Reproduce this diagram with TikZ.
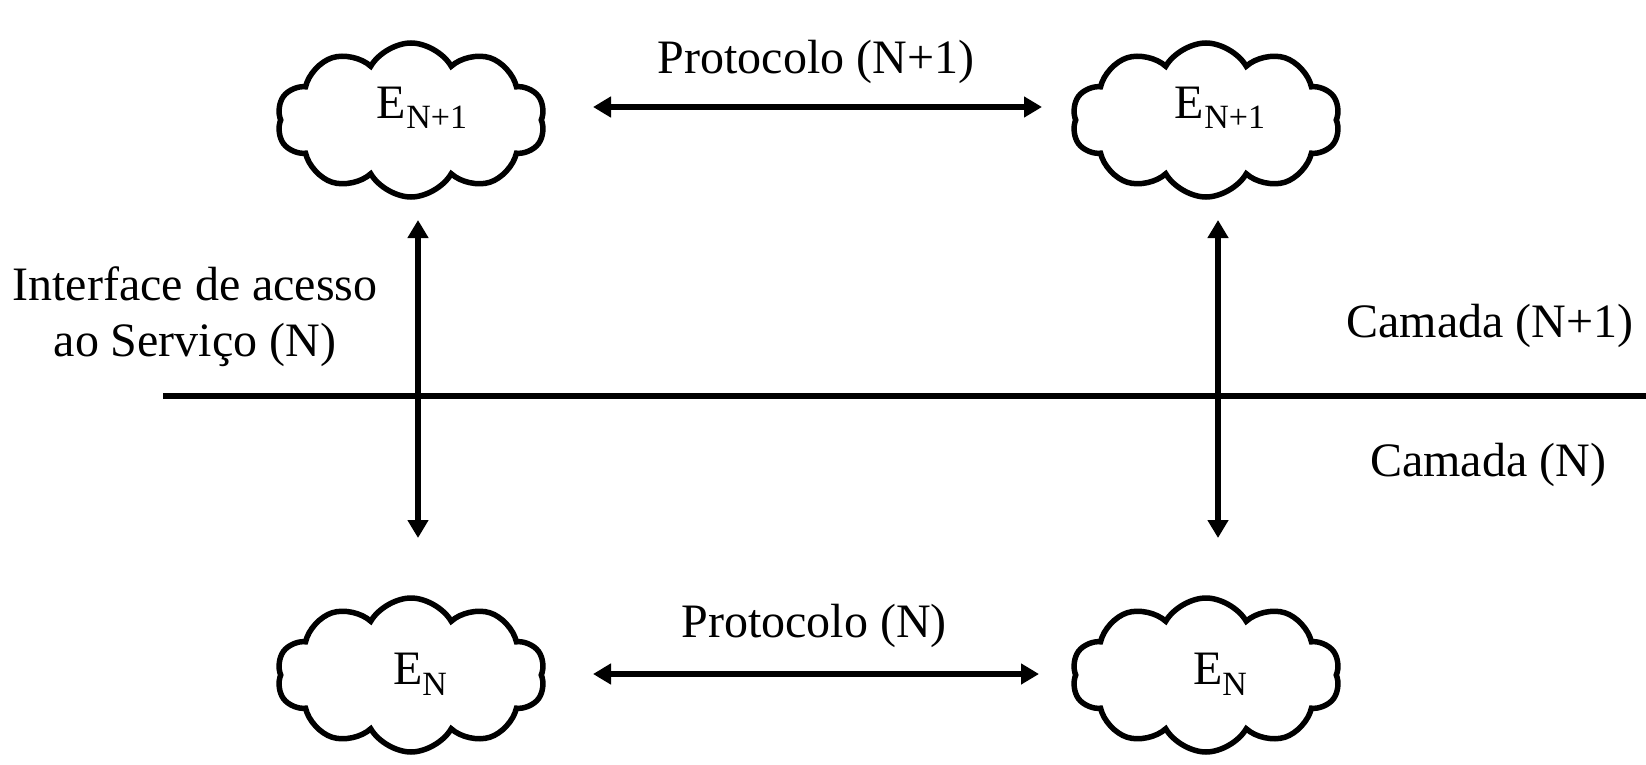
\documentclass[tikz,border=0pt]{standalone}
\usepackage{fontspec}
\setmainfont{Liberation Serif}
\usetikzlibrary{shapes.symbols,arrows.meta}
\tikzset{
  ent/.style={cloud, cloud puffs=10, cloud puff arc=120, cloud ignores aspect, draw, line width=5.5pt,
    minimum width=268pt, minimum height=154pt, inner sep=0pt},
  arr/.style={line width=6pt, {Triangle[length=18pt,width=20pt]}-{Triangle[length=18pt,width=20pt]}},
  lbl/.style={font=\fontsize{48}{56}\selectfont, inner sep=0pt, align=center},
}
\newcommand{\ent}[1]{E\raisebox{-0.22em}{\fontsize{34}{34}\selectfont #1}}
\begin{document}
\begin{tikzpicture}[x=1pt,y=-1pt]
\useasboundingbox (0,0) rectangle (1646,765);
\node[ent] (c1) at (411,120) {};
\node[ent] (c2) at (1206,120) {};
\node[ent] (c3) at (411,675) {};
\node[ent] (c4) at (1206,675) {};
\node[lbl] (t1) at (422,108) {\ent{N+1}};
\node[lbl] (t2) at (1220,108) {\ent{N+1}};
\node[lbl] (t3) at (420,674) {\ent{N}};
\node[lbl] (t4) at (1220,674) {\ent{N}};
\coordinate (h1a) at (593,107);
\coordinate (h1b) at (1042,107);
\coordinate (h2a) at (593,674);
\coordinate (h2b) at (1039,674);
\coordinate (v1a) at (418,220);
\coordinate (v1b) at (418,538);
\coordinate (v2a) at (1218,220);
\coordinate (v2b) at (1218,538);
\coordinate (la) at (163,396);
\coordinate (lb) at (1646,396);
\draw[arr] (h1a) -- (h1b);
\draw[arr] (h2a) -- (h2b);
\draw[arr] (v1a) -- (v1b);
\draw[arr] (v2a) -- (v2b);
\draw[line width=6pt] (la) -- (lb);
\node[lbl] (p1) at (816,62) {Protocolo (N+1)};
\node[lbl] (p2) at (814,626) {Protocolo (N)};
\node[lbl] (ia) at (195,317) {Interface de acesso\\ao Serviço (N)};
\node[lbl] (k1) at (1490,326) {Camada (N+1)};
\node[lbl] (k2) at (1488,465) {Camada (N)};
\end{tikzpicture}
\end{document}
